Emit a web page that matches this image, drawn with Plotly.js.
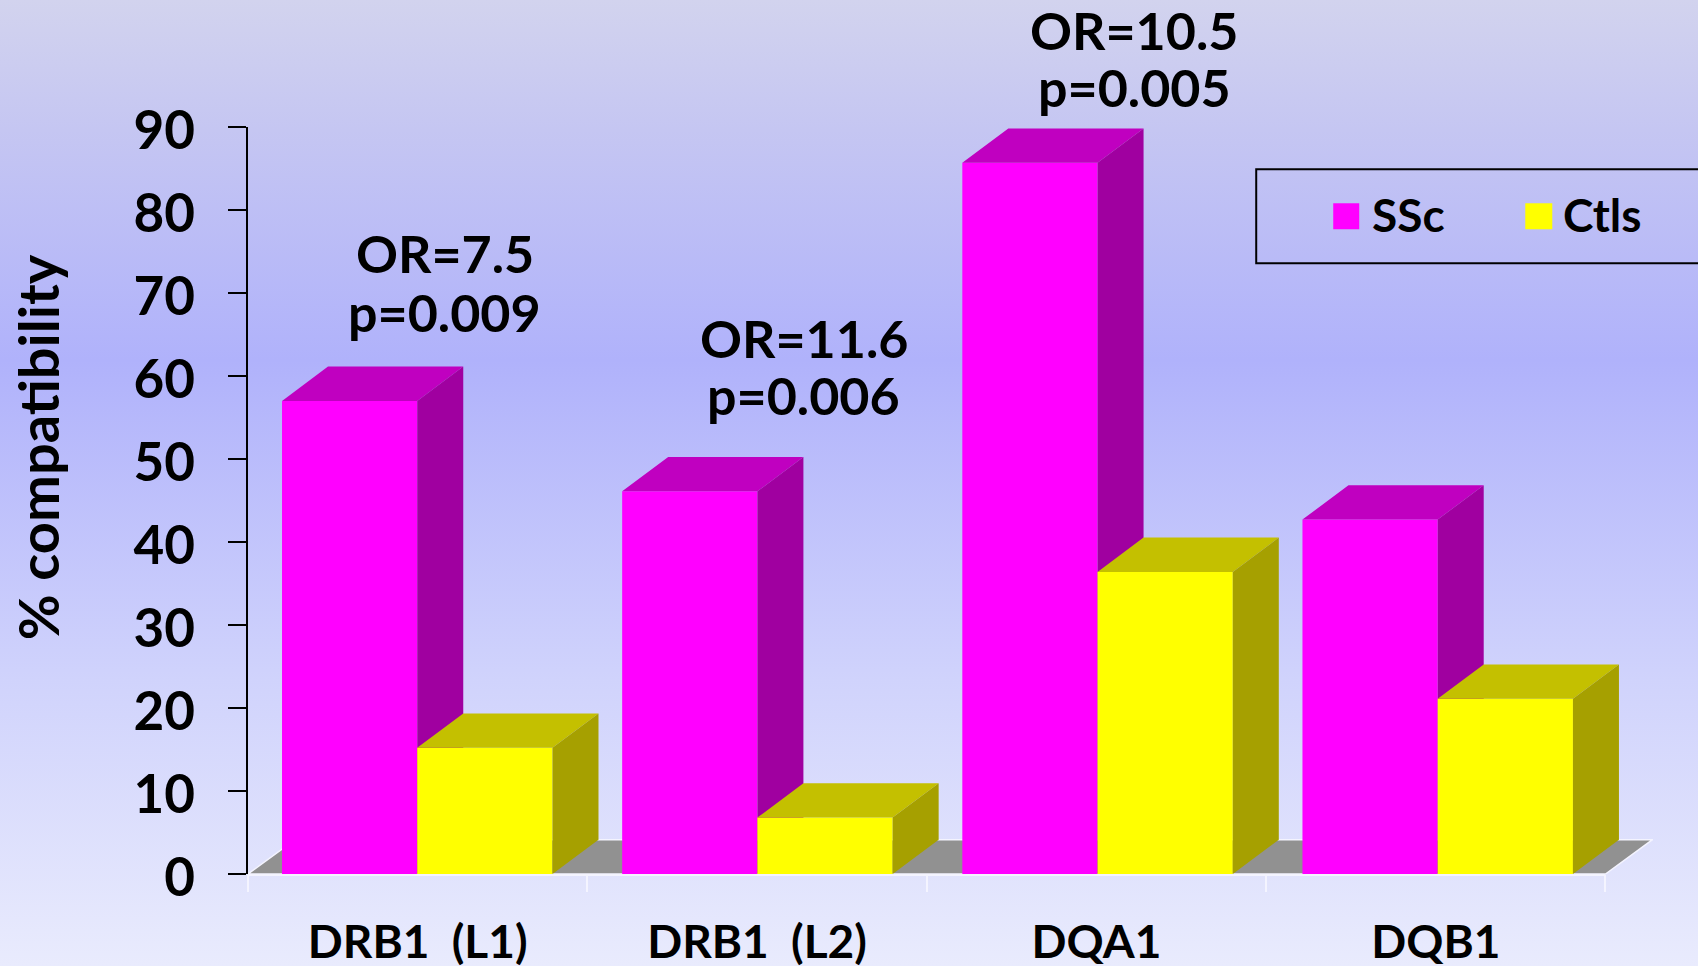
<!DOCTYPE html>
<html>
<head>
<meta charset="utf-8">
<script src="https://cdn.plot.ly/plotly-3.0.1.min.js"></script>
<style>
  html, body { margin: 0; padding: 0; width: 1698px; height: 966px; overflow: hidden; }
  body { background: linear-gradient(180deg, #d2d3ee 0px, #c5c6f2 130px, #b0b2fb 360px, #d0d3fc 680px, #e9ebfd 966px); }
</style>
</head>
<body>
<div id="chart" style="width:1698px;height:966px"></div>
<script>
// HLA compatibility by locus, patients against controls
const categories = ["DRB1\u00a0\u00a0(L1)", "DRB1\u00a0\u00a0(L2)", "DQA1", "DQB1"];
const ssc = [57.0, 46.1, 85.7, 42.7];
const ctls = [15.2, 6.8, 36.4, 21.1];
const yTicks = [0, 10, 20, 30, 40, 50, 60, 70, 80, 90];
const orNotes = ["OR=7.5", "OR=11.6", "OR=10.5"];
const pNotes = ["p=0.009", "p=0.006", "p=0.005"];
const noteX = [0.58, 1.637, 2.612];

const FONT = "Lato, 'Noto Sans', sans-serif";
const W = 1698, H = 966;
const M = { l: 248, r: 45.3, t: 126.7, b: 92 };
const plotW = W - M.l - M.r, plotH = H - M.t - M.b;
const xMax = 4.14, yMax = 90;
const barW = 0.3985;
// Bars sit a hair off the category centres, and drift slightly to the right
const barX = [0.4987, 1.5010, 2.5033, 3.5056];
// Oblique depth of the pseudo-3D boxes and of the floor, in axis units
const dx = 46 / (plotW / xMax), floorDx = 47 / (plotW / xMax), dy = 34.3 / (plotH / yMax);

const centers = categories.map((_, i) => i + 0.5);
const px = v => (v - M.l) / plotW;
const py = v => (H - M.b - v) / plotH;

// One trace holding a polygon per bar; null breaks separate the polygons
function faces(values, left, build, color, xa, ya) {
  const xs = [], ys = [];
  values.forEach((v, i) => {
    const x0 = barX[i] + left, x1 = x0 + barW;
    build(x0, x1, v).forEach(p => { xs.push(p[0]); ys.push(p[1]); });
    xs.push(null); ys.push(null);
  });
  return { type: "scatter", mode: "lines", x: xs, y: ys, fill: "toself", fillcolor: color,
           line: { width: 0, color: color }, hoverinfo: "skip", showlegend: false, xaxis: xa, yaxis: ya };
}
const topFace = (x0, x1, v) => [[x0, v], [x1, v], [x1 + dx, v + dy], [x0 + dx, v + dy], [x0, v]];
const sideFace = (x0, x1, v) => [[x1, 0], [x1 + dx, dy], [x1 + dx, v + dy], [x1, v], [x1, 0]];

const data = [
  { type: "bar", name: "SSc", x: barX, y: ssc, width: barW, offset: -barW,
    marker: { color: "#ff00ff", line: { width: 0 } }, showlegend: false },
  faces(ssc, -barW, topFace, "#c000c0", "x", "y"),
  faces(ssc, -barW, sideFace, "#a000a0", "x", "y"),
  { type: "bar", name: "Ctls", x: barX, y: ctls, width: barW, offset: 0,
    marker: { color: "#ffff00", line: { width: 0 } }, showlegend: false, xaxis: "x2", yaxis: "y2" },
  faces(ctls, 0, topFace, "#c4c000", "x2", "y2"),
  faces(ctls, 0, sideFace, "#a6a000", "x2", "y2")
];

const textFont = size => ({ family: FONT, size: size, color: "#000", weight: 700 });

const noteLine = (text, x, yPx) => ({
  text: text, x: x, xref: "x", y: py(yPx), yref: "paper",
  showarrow: false, xanchor: "center", yanchor: "middle", align: "center", font: textFont(52)
});
const annotations = [];
orNotes.forEach((t, i) => annotations.push(noteLine(t, noteX[i], [253, 337.5, 29.5][i])));
pNotes.forEach((t, i) => annotations.push(noteLine(t, noteX[i], [312, 395, 86.5][i])));
annotations.push(
  { text: "% compatibility", x: px(37), y: py(447), xref: "paper", yref: "paper", textangle: -90,
    showarrow: false, xanchor: "center", yanchor: "middle", font: textFont(56) },
  { text: "SSc", x: px(1370), y: py(214), xref: "paper", yref: "paper",
    showarrow: false, xanchor: "left", yanchor: "middle", font: textFont(46) },
  { text: "Ctls", x: px(1561), y: py(214), xref: "paper", yref: "paper",
    showarrow: false, xanchor: "left", yanchor: "middle", font: textFont(46) }
);

const paperRect = (x0, y0, x1, y1, style) => Object.assign({
  type: "rect", xref: "paper", yref: "paper", x0: px(x0), x1: px(x1), y0: py(y1), y1: py(y0)
}, style);

const n = categories.length;
const layout = {
  width: W, height: H,
  margin: M,
  paper_bgcolor: "rgba(0,0,0,0)", plot_bgcolor: "rgba(0,0,0,0)",
  showlegend: false,
  xaxis: {
    range: [0, xMax], showgrid: false, zeroline: false, showline: false,
    tickmode: "array", tickvals: centers, ticktext: categories,
    ticks: "", ticklabelstandoff: 37,
    tickfont: textFont(46),
    minor: { tickmode: "array", tickvals: [0, 1, 2, 3, 4], ticks: "outside", ticklen: 17, tickwidth: 2, tickcolor: "#f4f4ff", showgrid: false }
  },
  yaxis: {
    range: [0, yMax], showgrid: false, zeroline: false,
    showline: true, linecolor: "#000", linewidth: 2.5,
    tickmode: "array", tickvals: yTicks, ticks: "outside", ticklen: 18, tickwidth: 2, tickcolor: "#000",
    ticklabelstandoff: 22, ticklabelshift: 3,
    tickfont: textFont(53)
  },
  xaxis2: { overlaying: "x", anchor: "y2", range: [0, xMax], visible: false },
  yaxis2: { overlaying: "y", anchor: "x2", range: [0, yMax], visible: false },
  annotations: annotations,
  shapes: [
    // Grey floor beneath the boxes
    { type: "path", layer: "below", xref: "x", yref: "y",
      path: `M0,0 L${n},0 L${n + floorDx},${dy} L${floorDx},${dy} Z`,
      fillcolor: "#919191", line: { color: "#f4f4ff", width: 1.5 } },
    { type: "line", xref: "x", yref: "paper", x0: 0, x1: n, y0: -1 / plotH, y1: -1 / plotH,
      line: { color: "#f4f4ff", width: 2 } },
    paperRect(1256, 169, 1760, 263, { line: { color: "#000", width: 2 }, fillcolor: "rgba(0,0,0,0)" }),
    paperRect(1333, 203, 1359, 229, { line: { width: 0 }, fillcolor: "#ff00ff" }),
    paperRect(1525, 203, 1552, 229, { line: { width: 0 }, fillcolor: "#ffff00" })
  ]
};

Plotly.newPlot("chart", data, layout, { displayModeBar: false, staticPlot: true });
</script>
</body>
</html>
